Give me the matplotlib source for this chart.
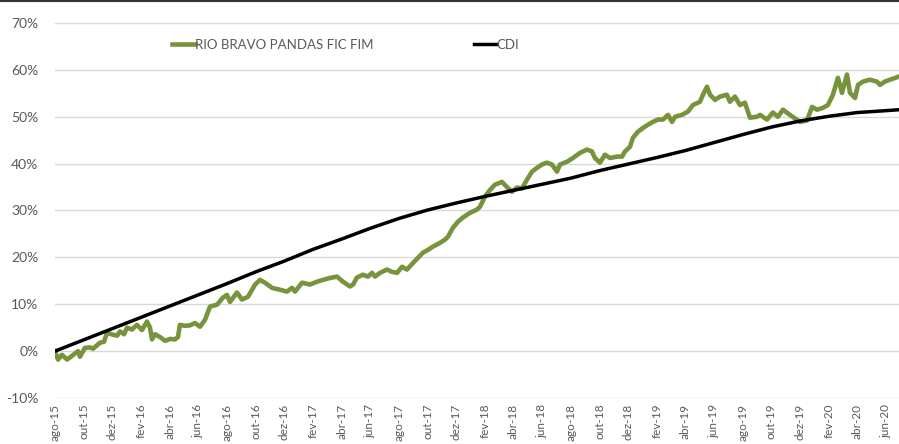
import matplotlib
matplotlib.use("Agg")
import matplotlib.pyplot as plt
from matplotlib.lines import Line2D
from matplotlib.ticker import FuncFormatter

plt.rcParams['font.family'] = ['Lato', 'DejaVu Sans']

# x values: months elapsed since Aug 2015
tick_labels = ["ago-15", "out-15", "dez-15",
               "fev-16", "abr-16", "jun-16", "ago-16", "out-16", "dez-16",
               "fev-17", "abr-17", "jun-17", "ago-17", "out-17", "dez-17",
               "fev-18", "abr-18", "jun-18", "ago-18", "out-18", "dez-18",
               "fev-19", "abr-19", "jun-19", "ago-19", "out-19", "dez-19",
               "fev-20", "abr-20", "jun-20"]
tick_months = [2 * i for i in range(len(tick_labels))]

fund_months = [0.00, 0.21, 0.49, 0.84, 1.19, 1.61, 1.74, 2.09, 2.44, 2.65,
               3.14, 3.42, 3.63, 4.05, 4.33, 4.54, 4.82, 5.02, 5.37, 5.72,
               6.07, 6.42, 6.63, 6.77, 6.98, 7.33, 7.68, 8.03, 8.37, 8.58,
               8.72, 9.07, 9.42, 9.77, 10.12, 10.47, 10.82, 11.31, 11.72, 12.00,
               12.21, 12.70, 13.05, 13.47, 13.96, 14.31, 14.65, 15.14, 15.70, 16.19,
               16.54, 16.75, 17.24, 17.80, 18.28, 18.70, 19.19, 19.68, 20.10, 20.59,
               20.80, 21.07, 21.49, 21.84, 22.12, 22.33, 22.68, 23.17, 23.52, 23.87,
               24.22, 24.56, 24.98, 25.33, 25.68, 26.03, 26.38, 26.87, 27.22, 27.42,
               27.77, 28.12, 28.47, 28.96, 29.45, 29.66, 30.01, 30.36, 30.70, 31.19,
               31.54, 31.89, 32.24, 32.59, 32.94, 33.29, 33.64, 33.98, 34.33, 34.68,
               35.03, 35.24, 35.73, 36.15, 36.64, 37.13, 37.47, 37.68, 38.03, 38.38,
               38.73, 39.22, 39.57, 39.78, 40.13, 40.33, 40.68, 41.03, 41.38, 41.73,
               42.08, 42.43, 42.78, 43.06, 43.27, 43.75, 44.17, 44.52, 45.01, 45.22,
               45.50, 45.71, 46.06, 46.41, 46.89, 47.10, 47.45, 47.80, 48.15, 48.50,
               48.99, 49.20, 49.69, 50.10, 50.45, 50.80, 51.29, 51.99, 52.48, 52.83,
               53.18, 53.59, 53.94, 54.29, 54.64, 54.92, 55.27, 55.48, 55.83, 56.04,
               56.39, 56.87, 57.36, 57.57, 57.92, 58.27, 58.83]
fund_values = [0.0, -1.8, -0.8, -1.8, -1.0, 0.0, -1.2, 0.7, 0.8, 0.5,
               1.8, 2.0, 3.9, 3.5, 3.3, 4.2, 3.6, 5.0, 4.6, 5.6,
               4.5, 6.3, 5.0, 2.5, 3.6, 3.0, 2.2, 2.6, 2.5, 3.0,
               5.6, 5.4, 5.5, 6.0, 5.2, 6.7, 9.5, 9.9, 11.4, 12.0,
               10.5, 12.5, 11.0, 11.6, 14.2, 15.2, 14.6, 13.5, 13.1, 12.7,
               13.5, 12.7, 14.6, 14.2, 14.8, 15.2, 15.6, 15.9, 14.8, 13.8,
               14.2, 15.7, 16.3, 15.9, 16.7, 15.9, 16.7, 17.4, 16.9, 16.7,
               18.0, 17.4, 18.8, 19.9, 21.0, 21.6, 22.3, 23.1, 23.8, 24.4,
               26.3, 27.6, 28.5, 29.5, 30.2, 30.8, 33.0, 34.4, 35.5, 36.1,
               35.0, 34.0, 34.9, 34.7, 36.6, 38.3, 39.1, 39.8, 40.2, 39.8,
               38.3, 39.8, 40.4, 41.2, 42.3, 43.0, 42.6, 41.2, 40.2, 41.9,
               41.2, 41.5, 41.5, 42.6, 43.6, 45.5, 46.8, 47.6, 48.3, 48.9,
               49.4, 49.4, 50.4, 48.9, 50.0, 50.4, 51.1, 52.5, 53.2, 54.7,
               56.4, 54.7, 53.6, 54.3, 54.7, 53.2, 54.3, 52.5, 53.0, 49.8,
               50.0, 50.4, 49.4, 50.9, 50.0, 51.5, 50.4, 48.9, 49.2, 52.1,
               51.5, 51.9, 52.5, 54.7, 58.3, 55.1, 59.0, 55.1, 54.0, 56.8,
               57.5, 57.9, 57.5, 56.8, 57.5, 57.9, 58.5]

cdi_months = [0, 2, 4, 6, 8, 10, 12, 14, 16, 18, 20, 22, 24, 26, 28, 30,
              32, 34, 36, 38, 40, 42, 44, 46, 48, 50, 52, 54, 56, 58, 58.9]
cdi_values = [0.0, 2.4, 4.8, 7.2, 9.6, 12.0, 14.4, 16.9, 19.2, 21.7, 23.9, 26.2,
              28.3, 30.1, 31.6, 33.0, 34.3, 35.6, 36.9, 38.5, 39.9, 41.3, 42.8,
              44.5, 46.2, 47.8, 49.1, 50.1, 50.9, 51.3, 51.5]

series_names = ["RIO BRAVO PANDAS FIC FIM", "CDI"]

fig = plt.figure(figsize=(8.99, 4.44), dpi=100)
ax = fig.add_axes([55 / 899, 1 - 398 / 444, 1 - 55 / 899, (398 - 23) / 444])

ax.plot(fund_months, fund_values, color="#77933C", lw=3.3,
        solid_joinstyle="round", label=series_names[0], zorder=3)
ax.plot(cdi_months, cdi_values, color="black", lw=2.5,
        label=series_names[1], zorder=4)

ax.set_xlim(0, 58.9)
ax.set_ylim(-10, 70)
ax.set_yticks(range(-10, 71, 10))
ax.yaxis.set_major_formatter(FuncFormatter(lambda v, p: f"{v:.0f}%"))
ax.set_xticks(tick_months)
ax.set_xticklabels(tick_labels, rotation=90)
ax.grid(axis="y", color="#D9D9D9", lw=1.0)
ax.set_axisbelow(True)
for s in ax.spines.values():
    s.set_visible(False)
ax.tick_params(axis="both", length=0, colors="#595959", labelsize=10)
ax.tick_params(axis="y", pad=12)
ax.tick_params(axis="x", pad=4, labelsize=8.5)

ax.legend(loc="upper left", bbox_to_anchor=(0.125, 0.99), ncol=2, frameon=False,
          handlelength=1.7, handletextpad=0.0, columnspacing=7.6,
          labelcolor="#595959", fontsize=9.5)

fig.add_artist(Line2D([0, 1], [0.998, 0.998], color="#333333", lw=1.5,
                      transform=fig.transFigure))

fig.savefig("out.png", dpi=100)
